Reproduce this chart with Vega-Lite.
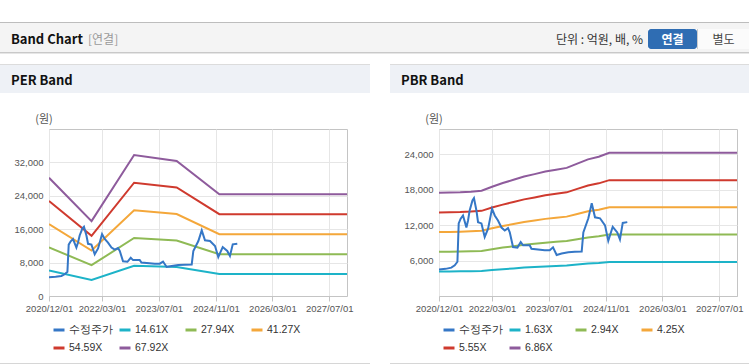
{
"$schema": "https://vega.github.io/schema/vega-lite/v6.json",
"padding": {"left": 0, "top": 22, "right": 0, "bottom": 0},
"background": "#ffffff",
"config": {"view": {"stroke": null}, "concat": {"spacing": 0}, "font": "Liberation Sans", "title": {"frame": "group", "font": "Noto Sans CJK KR"}},
"datasets": {
"blank": [],
"price": [
{"d":"2020-12-01","s":"수정주가","v":4500},{"d":"2021-01-27","s":"수정주가","v":4600},{"d":"2021-03-17","s":"수정주가","v":4800},{"d":"2021-04-15","s":"수정주가","v":5200},{"d":"2021-05-08","s":"수정주가","v":5800},{"d":"2021-05-19","s":"수정주가","v":12300},{"d":"2021-06-05","s":"수정주가","v":13100},{"d":"2021-06-25","s":"수정주가","v":13650},{"d":"2021-07-24","s":"수정주가","v":11600},{"d":"2021-08-07","s":"수정주가","v":12800},{"d":"2021-08-21","s":"수정주가","v":14500},{"d":"2021-09-14","s":"수정주가","v":16200},{"d":"2021-09-27","s":"수정주가","v":16600},{"d":"2021-10-18","s":"수정주가","v":14500},{"d":"2021-11-01","s":"수정주가","v":12500},{"d":"2021-11-30","s":"수정주가","v":12300},{"d":"2021-12-28","s":"수정주가","v":10000},{"d":"2022-01-26","s":"수정주가","v":11400},{"d":"2022-03-01","s":"수정주가","v":14800},{"d":"2022-03-24","s":"수정주가","v":13650},{"d":"2022-04-21","s":"수정주가","v":12800},{"d":"2022-05-21","s":"수정주가","v":11600},{"d":"2022-06-18","s":"수정주가","v":11100},{"d":"2022-07-16","s":"수정주가","v":11500},{"d":"2022-07-31","s":"수정주가","v":10800},{"d":"2022-08-28","s":"수정주가","v":8300},{"d":"2022-10-05","s":"수정주가","v":8200},{"d":"2022-11-02","s":"수정주가","v":9150},{"d":"2022-11-22","s":"수정주가","v":8600},{"d":"2023-01-18","s":"수정주가","v":8600},{"d":"2023-02-02","s":"수정주가","v":8000},{"d":"2023-05-27","s":"수정주가","v":7750},{"d":"2023-07-09","s":"수정주가","v":7750},{"d":"2023-08-06","s":"수정주가","v":8250},{"d":"2023-09-06","s":"수정주가","v":6950},{"d":"2023-10-19","s":"수정주가","v":7200},{"d":"2023-12-15","s":"수정주가","v":7400},{"d":"2024-02-09","s":"수정주가","v":7500},{"d":"2024-04-08","s":"수정주가","v":7550},{"d":"2024-04-22","s":"수정주가","v":10780},{"d":"2024-06-04","s":"수정주가","v":13170},{"d":"2024-07-03","s":"수정주가","v":15730},{"d":"2024-07-31","s":"수정주가","v":13340},{"d":"2024-09-12","s":"수정주가","v":13170},{"d":"2024-10-25","s":"수정주가","v":11970},{"d":"2024-11-22","s":"수정주가","v":9340},{"d":"2024-12-30","s":"수정주가","v":11730},{"d":"2025-02-07","s":"수정주가","v":10780},{"d":"2025-03-02","s":"수정주가","v":9580},{"d":"2025-03-26","s":"수정주가","v":12380},{"d":"2025-05-04","s":"수정주가","v":12520}
],
"per": [
{"d":"2020-12-01","s":"14.61X","v":6092},{"d":"2020-12-01","s":"27.94X","v":11651},{"d":"2020-12-01","s":"41.27X","v":17210},{"d":"2020-12-01","s":"54.59X","v":22764},{"d":"2020-12-01","s":"67.92X","v":28323},
{"d":"2021-12-01","s":"14.61X","v":3857},{"d":"2021-12-01","s":"27.94X","v":7376},{"d":"2021-12-01","s":"41.27X","v":10895},{"d":"2021-12-01","s":"54.59X","v":14412},{"d":"2021-12-01","s":"67.92X","v":17931},
{"d":"2022-12-01","s":"14.61X","v":7261},{"d":"2022-12-01","s":"27.94X","v":13886},{"d":"2022-12-01","s":"41.27X","v":20511},{"d":"2022-12-01","s":"54.59X","v":27131},{"d":"2022-12-01","s":"67.92X","v":33756},
{"d":"2023-12-01","s":"14.61X","v":6954},{"d":"2023-12-01","s":"27.94X","v":13299},{"d":"2023-12-01","s":"41.27X","v":19645},{"d":"2023-12-01","s":"54.59X","v":25985},{"d":"2023-12-01","s":"67.92X","v":32330},
{"d":"2024-12-01","s":"14.61X","v":5245},{"d":"2024-12-01","s":"27.94X","v":10030},{"d":"2024-12-01","s":"41.27X","v":14816},{"d":"2024-12-01","s":"54.59X","v":19598},{"d":"2024-12-01","s":"67.92X","v":24383},
{"d":"2027-12-01","s":"14.61X","v":5245},{"d":"2027-12-01","s":"27.94X","v":10030},{"d":"2027-12-01","s":"41.27X","v":14816},{"d":"2027-12-01","s":"54.59X","v":19598},{"d":"2027-12-01","s":"67.92X","v":24383}
],
"pbr": [
{"d":"2020-12-01","s":"1.63X","v":4160},{"d":"2020-12-01","s":"2.94X","v":7503},{"d":"2020-12-01","s":"4.25X","v":10846},{"d":"2020-12-01","s":"5.55X","v":14164},{"d":"2020-12-01","s":"6.86X","v":17507},
{"d":"2021-03-01","s":"1.63X","v":4165},{"d":"2021-03-01","s":"2.94X","v":7512},{"d":"2021-03-01","s":"4.25X","v":10859},{"d":"2021-03-01","s":"5.55X","v":14180},{"d":"2021-03-01","s":"6.86X","v":17527},
{"d":"2021-06-01","s":"1.63X","v":4176},{"d":"2021-06-01","s":"2.94X","v":7532},{"d":"2021-06-01","s":"4.25X","v":10889},{"d":"2021-06-01","s":"5.55X","v":14219},{"d":"2021-06-01","s":"6.86X","v":17575},
{"d":"2021-09-01","s":"1.63X","v":4201},{"d":"2021-09-01","s":"2.94X","v":7576},{"d":"2021-09-01","s":"4.25X","v":10952},{"d":"2021-09-01","s":"5.55X","v":14302},{"d":"2021-09-01","s":"6.86X","v":17678},
{"d":"2021-12-01","s":"1.63X","v":4238},{"d":"2021-12-01","s":"2.94X","v":7644},{"d":"2021-12-01","s":"4.25X","v":11050},{"d":"2021-12-01","s":"5.55X","v":14430},{"d":"2021-12-01","s":"6.86X","v":17836},
{"d":"2022-03-01","s":"1.63X","v":4401},{"d":"2022-03-01","s":"2.94X","v":7938},{"d":"2022-03-01","s":"4.25X","v":11475},{"d":"2022-03-01","s":"5.55X","v":14985},{"d":"2022-03-01","s":"6.86X","v":18522},
{"d":"2022-06-01","s":"1.63X","v":4548},{"d":"2022-06-01","s":"2.94X","v":8203},{"d":"2022-06-01","s":"4.25X","v":11858},{"d":"2022-06-01","s":"5.55X","v":15485},{"d":"2022-06-01","s":"6.86X","v":19139},
{"d":"2022-09-01","s":"1.63X","v":4678},{"d":"2022-09-01","s":"2.94X","v":8438},{"d":"2022-09-01","s":"4.25X","v":12198},{"d":"2022-09-01","s":"5.55X","v":15929},{"d":"2022-09-01","s":"6.86X","v":19688},
{"d":"2022-12-01","s":"1.63X","v":4809},{"d":"2022-12-01","s":"2.94X","v":8673},{"d":"2022-12-01","s":"4.25X","v":12538},{"d":"2022-12-01","s":"5.55X","v":16373},{"d":"2022-12-01","s":"6.86X","v":20237},
{"d":"2023-03-01","s":"1.63X","v":4906},{"d":"2023-03-01","s":"2.94X","v":8849},{"d":"2023-03-01","s":"4.25X","v":12793},{"d":"2023-03-01","s":"5.55X","v":16706},{"d":"2023-03-01","s":"6.86X","v":20649},
{"d":"2023-06-01","s":"1.63X","v":5012},{"d":"2023-06-01","s":"2.94X","v":9041},{"d":"2023-06-01","s":"4.25X","v":13069},{"d":"2023-06-01","s":"5.55X","v":17066},{"d":"2023-06-01","s":"6.86X","v":21095},
{"d":"2023-09-01","s":"1.63X","v":5086},{"d":"2023-09-01","s":"2.94X","v":9173},{"d":"2023-09-01","s":"4.25X","v":13260},{"d":"2023-09-01","s":"5.55X","v":17316},{"d":"2023-09-01","s":"6.86X","v":21403},
{"d":"2023-12-01","s":"1.63X","v":5159},{"d":"2023-12-01","s":"2.94X","v":9305},{"d":"2023-12-01","s":"4.25X","v":13451},{"d":"2023-12-01","s":"5.55X","v":17566},{"d":"2023-12-01","s":"6.86X","v":21712},
{"d":"2024-03-01","s":"1.63X","v":5330},{"d":"2024-03-01","s":"2.94X","v":9614},{"d":"2024-03-01","s":"4.25X","v":13898},{"d":"2024-03-01","s":"5.55X","v":18149},{"d":"2024-03-01","s":"6.86X","v":22432},
{"d":"2024-06-01","s":"1.63X","v":5501},{"d":"2024-06-01","s":"2.94X","v":9923},{"d":"2024-06-01","s":"4.25X","v":14344},{"d":"2024-06-01","s":"5.55X","v":18731},{"d":"2024-06-01","s":"6.86X","v":23153},
{"d":"2024-09-01","s":"1.63X","v":5607},{"d":"2024-09-01","s":"2.94X","v":10114},{"d":"2024-09-01","s":"4.25X","v":14620},{"d":"2024-09-01","s":"5.55X","v":19092},{"d":"2024-09-01","s":"6.86X","v":23598},
{"d":"2024-12-01","s":"1.63X","v":5767},{"d":"2024-12-01","s":"2.94X","v":10402},{"d":"2024-12-01","s":"4.25X","v":15037},{"d":"2024-12-01","s":"5.55X","v":19636},{"d":"2024-12-01","s":"6.86X","v":24271},
{"d":"2027-12-01","s":"1.63X","v":5767},{"d":"2027-12-01","s":"2.94X","v":10402},{"d":"2027-12-01","s":"4.25X","v":15037},{"d":"2027-12-01","s":"5.55X","v":19636},{"d":"2027-12-01","s":"6.86X","v":24271}
]
},
"bounds": "full",
"spacing": 0,
"resolve": {"scale": {"color": "independent", "x": "independent", "y": "independent"}, "legend": {"color": "independent"}},
"vconcat": [
{"width": 749, "height": 1, "data": {"name": "blank"}, "mark": {"type": "text", "text": ""}, "view": {"fill": "#bdbdbd"}},
{"bounds": "full", "spacing": 0, "hconcat": [
 {"width": 84, "height": 29, "data": {"name": "blank"}, "mark": {"type": "text", "text": ""}, "view": {"fill": "#f4f4f4"},
  "title": {"text": "Band Chart", "anchor": "start", "offset": -24, "dx": 11, "fontSize": 13, "fontWeight": "bold", "color": "#111111"}},
 {"width": 300, "height": 29, "data": {"name": "blank"}, "mark": {"type": "text", "text": ""}, "view": {"fill": "#f4f4f4"},
  "title": {"text": "[연결]", "anchor": "start", "offset": -24, "dx": 4, "fontSize": 12, "fontWeight": "normal", "color": "#9a9a9a"}},
 {"width": 264, "height": 29, "data": {"name": "blank"}, "mark": {"type": "text", "text": ""}, "view": {"fill": "#f4f4f4"},
  "title": {"text": "단위 : 억원, 배, %", "anchor": "end", "offset": -24, "dx": -5, "fontSize": 12, "fontWeight": "normal", "color": "#333333"}},
 {"bounds": "full", "spacing": 0, "vconcat": [
  {"width": 101, "height": 6, "data": {"name": "blank"}, "mark": {"type": "text", "text": ""}, "view": {"fill": "#f4f4f4"}},
  {"bounds": "full", "spacing": 0, "hconcat": [
   {"width": 49, "height": 20, "data": {"name": "blank"}, "mark": {"type": "text", "text": ""}, "view": {"fill": "#2f6db3", "cornerRadius": 3},
    "title": {"text": "연결", "anchor": "middle", "offset": -18, "fontSize": 12, "fontWeight": "bold", "color": "#ffffff"}},
   {"width": 1, "height": 20, "data": {"name": "blank"}, "mark": {"type": "text", "text": ""}, "view": {"fill": "#cccccc"}},
   {"width": 51, "height": 20, "data": {"name": "blank"}, "mark": {"type": "text", "text": ""}, "view": {"fill": "#fbfbfb"},
    "title": {"text": "별도", "anchor": "middle", "offset": -18, "fontSize": 12, "fontWeight": "normal", "color": "#444444"}}
  ]},
  {"width": 101, "height": 3, "data": {"name": "blank"}, "mark": {"type": "text", "text": ""}, "view": {"fill": "#f4f4f4"}}
 ]}
]},
{"width": 749, "height": 1, "data": {"name": "blank"}, "mark": {"type": "text", "text": ""}, "view": {"fill": "#c9c9c9"}},
{"width": 749, "height": 1, "data": {"name": "blank"}, "mark": {"type": "text", "text": ""}, "view": {"fill": "#e6e6e6"}},
{"width": 749, "height": 10, "data": {"name": "blank"}, "mark": {"type": "text", "text": ""}},
{"bounds": "full", "spacing": 0, "hconcat": [
 {"width": 370, "height": 1, "data": {"name": "blank"}, "mark": {"type": "text", "text": ""}, "view": {"fill": "#dcdcdc"}},
 {"width": 20, "height": 1, "data": {"name": "blank"}, "mark": {"type": "text", "text": ""}},
 {"width": 359, "height": 1, "data": {"name": "blank"}, "mark": {"type": "text", "text": ""}, "view": {"fill": "#dcdcdc"}}
]},
{"bounds": "full", "spacing": 0, "hconcat": [
 {"width": 370, "height": 28, "data": {"name": "blank"}, "mark": {"type": "text", "text": ""}, "view": {"fill": "#eef1f6"},
  "title": {"text": "PER Band", "anchor": "start", "offset": -23, "dx": 11, "fontSize": 13, "fontWeight": "bold", "color": "#111111"}},
 {"width": 20, "height": 28, "data": {"name": "blank"}, "mark": {"type": "text", "text": ""}},
 {"width": 359, "height": 28, "data": {"name": "blank"}, "mark": {"type": "text", "text": ""}, "view": {"fill": "#eef1f6"},
  "title": {"text": "PBR Band", "anchor": "start", "offset": -23, "dx": 11, "fontSize": 13, "fontWeight": "bold", "color": "#111111"}}
]},
{"bounds": "full", "spacing": 0, "hconcat": [
 {"width": 88, "height": 35, "data": {"name": "blank"}, "mark": {"type": "text", "text": ""},
  "title": {"text": "(원)", "anchor": "middle", "offset": -32, "fontSize": 11, "fontWeight": "normal", "color": "#555555"}},
 {"width": 302, "height": 35, "data": {"name": "blank"}, "mark": {"type": "text", "text": ""}},
 {"width": 88, "height": 35, "data": {"name": "blank"}, "mark": {"type": "text", "text": ""},
  "title": {"text": "(원)", "anchor": "middle", "offset": -32, "fontSize": 11, "fontWeight": "normal", "color": "#555555"}},
 {"width": 271, "height": 35, "data": {"name": "blank"}, "mark": {"type": "text", "text": ""}}
]},
{"bounds": "flush", "spacing": 0, "resolve": {"scale": {"color": "independent", "x": "independent", "y": "independent"}, "legend": {"color": "independent"}}, "hconcat": [
 {"width": 49, "height": 234, "data": {"name": "blank"}, "mark": {"type": "text", "text": ""}},
 {"width": 298, "height": 167, "view": {"stroke": "#c4c4c4", "fill": "#ffffff"},
  "encoding": {
   "x": {"field": "d", "type": "temporal", "scale": {"type": "utc", "domain": [{"year": 2020, "month": 12, "date": 1, "utc": true}, {"year": 2027, "month": 12, "date": 1, "utc": true}]},
     "axis": {"title": null, "format": "%Y/%m/%d", "values": [{"year": 2020, "month": 12, "date": 1, "utc": true}, {"year": 2022, "month": 3, "date": 1, "utc": true}, {"year": 2023, "month": 7, "date": 1, "utc": true}, {"year": 2024, "month": 11, "date": 1, "utc": true}, {"year": 2026, "month": 3, "date": 1, "utc": true}, {"year": 2027, "month": 7, "date": 1, "utc": true}],
       "grid": true, "gridColor": "#e6e6e6", "domainColor": "#c4c4c4", "tickColor": "#c4c4c4", "tickSize": 5, "labelPadding": 2, "labelFontSize": 9.5, "labelColor": "#555555", "labelFlush": false, "labelOverlap": false, "labelBound": false}},
   "y": {"field": "v", "type": "quantitative", "scale": {"domain": [0, 40000], "nice": false, "zero": true},
     "axis": {"title": null, "values": [0, 8000, 16000, 24000, 32000], "format": ",d", "grid": true, "gridColor": "#e6e6e6", "domain": false, "ticks": false, "labelPadding": 6, "labelFontSize": 9.5, "labelColor": "#555555"}},
   "color": {"field": "s", "type": "nominal", "scale": {"domain": ["수정주가", "14.61X", "27.94X", "41.27X", "54.59X", "67.92X"], "range": ["#3577c6", "#1db3c8", "#8fba55", "#f4a73a", "#cf3a2e", "#8e5b9c"]},
     "legend": {"title": null, "orient": "none", "legendX": 3, "legendY": 194, "direction": "horizontal", "columns": 4, "gridAlign": "all", "columnPadding": 0, "rowPadding": 5, "symbolType": "stroke", "symbolSize": 121, "symbolStrokeWidth": 3, "labelOffset": 3, "labelFontSize": 10.5, "labelColor": "#333333", "padding": 0}}
  },
  "layer": [
   {"data": {"name": "per"}, "mark": {"type": "line", "strokeWidth": 2, "clip": true}},
   {"data": {"name": "price"}, "mark": {"type": "line", "strokeWidth": 2, "clip": true}}
  ]
 },
 {"width": 92, "height": 234, "data": {"name": "blank"}, "mark": {"type": "text", "text": ""}},
 {"width": 298, "height": 167, "view": {"stroke": "#c4c4c4", "fill": "#ffffff"},
  "encoding": {
   "x": {"field": "d", "type": "temporal", "scale": {"type": "utc", "domain": [{"year": 2020, "month": 12, "date": 1, "utc": true}, {"year": 2027, "month": 12, "date": 1, "utc": true}]},
     "axis": {"title": null, "format": "%Y/%m/%d", "values": [{"year": 2020, "month": 12, "date": 1, "utc": true}, {"year": 2022, "month": 3, "date": 1, "utc": true}, {"year": 2023, "month": 7, "date": 1, "utc": true}, {"year": 2024, "month": 11, "date": 1, "utc": true}, {"year": 2026, "month": 3, "date": 1, "utc": true}, {"year": 2027, "month": 7, "date": 1, "utc": true}],
       "grid": true, "gridColor": "#e6e6e6", "domainColor": "#c4c4c4", "tickColor": "#c4c4c4", "tickSize": 5, "labelPadding": 2, "labelFontSize": 9.5, "labelColor": "#555555", "labelFlush": false, "labelOverlap": false, "labelBound": false}},
   "y": {"field": "v", "type": "quantitative", "scale": {"domain": [0, 28300], "nice": false, "zero": true},
     "axis": {"title": null, "values": [6000, 12000, 18000, 24000], "format": ",d", "grid": true, "gridColor": "#e6e6e6", "domain": false, "ticks": false, "labelPadding": 6, "labelFontSize": 9.5, "labelColor": "#555555"}},
   "color": {"field": "s", "type": "nominal", "scale": {"domain": ["수정주가", "1.63X", "2.94X", "4.25X", "5.55X", "6.86X"], "range": ["#3577c6", "#1db3c8", "#8fba55", "#f4a73a", "#cf3a2e", "#8e5b9c"]},
     "legend": {"title": null, "orient": "none", "legendX": 3, "legendY": 194, "direction": "horizontal", "columns": 4, "gridAlign": "all", "columnPadding": 0, "rowPadding": 5, "symbolType": "stroke", "symbolSize": 121, "symbolStrokeWidth": 3, "labelOffset": 3, "labelFontSize": 10.5, "labelColor": "#333333", "padding": 0}}
  },
  "layer": [
   {"data": {"name": "pbr"}, "mark": {"type": "line", "strokeWidth": 2, "clip": true}},
   {"data": {"name": "price"}, "mark": {"type": "line", "strokeWidth": 2, "clip": true}}
  ]
 },
 {"width": 12, "height": 234, "data": {"name": "blank"}, "mark": {"type": "text", "text": ""}}
]},
{"bounds": "full", "spacing": 0, "hconcat": [
 {"width": 370, "height": 1, "data": {"name": "blank"}, "mark": {"type": "text", "text": ""}, "view": {"fill": "#d6d6d6"}},
 {"width": 20, "height": 1, "data": {"name": "blank"}, "mark": {"type": "text", "text": ""}},
 {"width": 359, "height": 1, "data": {"name": "blank"}, "mark": {"type": "text", "text": ""}, "view": {"fill": "#d6d6d6"}}
]}
]
}
